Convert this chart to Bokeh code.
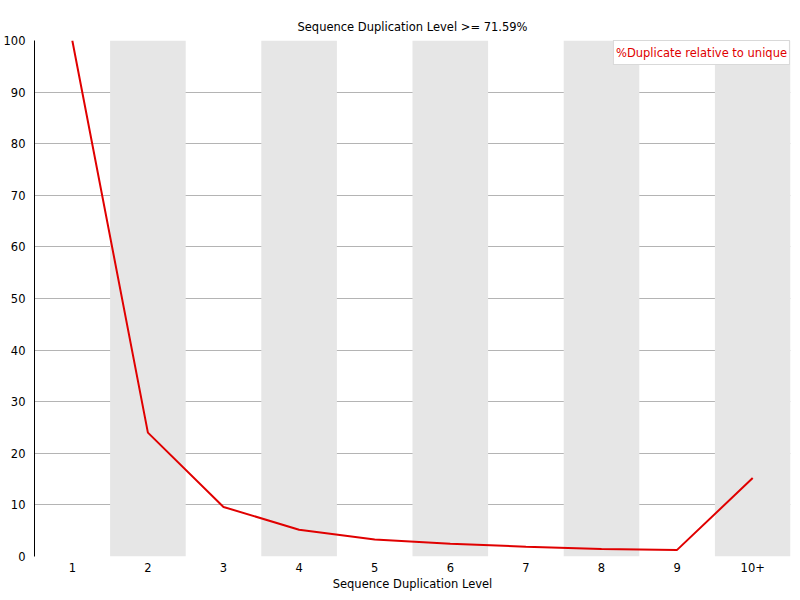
from bokeh.plotting import figure
from bokeh.models import ColumnDataSource, Range1d, Legend, LegendItem, FixedTicker
from bokeh.embed import file_html
from bokeh.resources import INLINE

levels = ["1", "2", "3", "4", "5", "6", "7", "8", "9", "10+"]
dup_relative = [100.0, 24.0, 9.6, 5.2, 3.3, 2.45, 1.9, 1.47, 1.28, 15.2]
shaded = ["2", "4", "6", "8", "10+"]
y_ticks = [0, 10, 20, 30, 40, 50, 60, 70, 80, 90, 100]

FONT = "DejaVu Sans"
FSIZE = "11.5px"

p = figure(x_range=levels, y_range=Range1d(0, 100),
           frame_width=756, frame_height=516,
           output_backend="svg", toolbar_location=None,
           title="Sequence Duplication Level >= 71.59%",
           x_axis_label="Sequence Duplication Level",
           min_border_left=0, min_border_right=2, min_border_top=40, min_border_bottom=0)

p.title.align = "center"
p.title.text_font = FONT
p.title.text_font_size = FSIZE
p.title.text_font_style = "normal"
p.title.text_color = "black"
p.title.standoff = 13
p.outline_line_color = None

# alternating bands
band_src = ColumnDataSource(dict(x=shaded, top=[100] * len(shaded)))
p.vbar(x="x", top="top", bottom=0, width=1.0, source=band_src,
       fill_color="#e6e6e6", line_color=None)

src = ColumnDataSource(dict(x=levels, y=dup_relative))
line = p.line(x="x", y="y", source=src, line_color="#e00000", line_width=2)

p.xgrid.grid_line_color = None
p.ygrid.grid_line_color = "#b4b4b4"
p.ygrid.level = "image"
p.yaxis.ticker = FixedTicker(ticks=y_ticks)

for ax in (p.xaxis, p.yaxis):
    ax.major_tick_line_color = None
    ax.minor_tick_line_color = None
    ax.major_label_text_font = FONT
    ax.major_label_text_font_size = FSIZE
    ax.major_label_text_color = "black"
    ax.axis_label_text_font = FONT
    ax.axis_label_text_font_size = FSIZE
    ax.axis_label_text_font_style = "normal"
    ax.axis_label_text_color = "black"
p.xaxis.axis_line_color = None
p.yaxis.axis_line_color = "black"
p.yaxis.major_label_standoff = 3
p.xaxis.major_label_standoff = 0
p.xaxis.axis_label_standoff = 2

legend = Legend(items=[LegendItem(label="%Duplicate relative to unique", renderers=[line])],
                location="top_right", glyph_width=0, glyph_height=19, label_standoff=0,
                label_text_color="#e00000", label_text_font=FONT, label_text_font_size=FSIZE,
                border_line_color="#b4b4b4", background_fill_alpha=1.0,
                padding=2, margin=0, spacing=0)
p.add_layout(legend)

open("out.html", "w").write(file_html(p, INLINE))
